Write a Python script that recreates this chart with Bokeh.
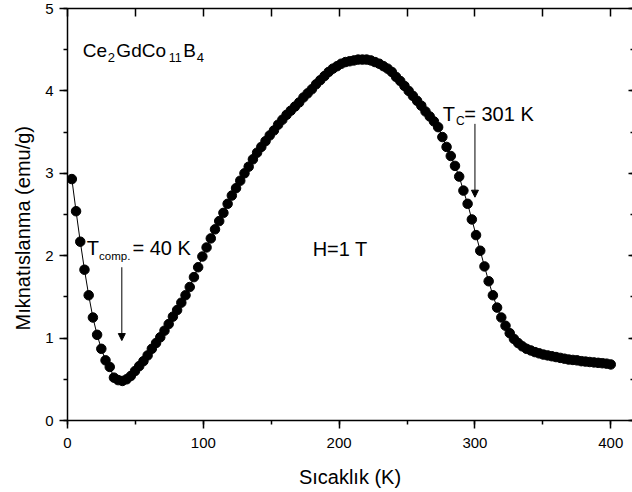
import math
from bokeh.plotting import figure
from bokeh.models import (LinearAxis, SingleIntervalTicker, Label, Arrow,
                          NormalHead, Range1d, CustomJSTickFormatter, Title)
from bokeh.embed import file_html
from bokeh.resources import INLINE

# ---------------- data ----------------
TEMPERATURE_K = [
    3.2, 6.3, 9.4, 12.5, 15.6, 18.7, 21.8, 24.9, 28.0, 31.1,
    34.2, 37.3, 40.4, 43.5, 46.6, 49.7, 52.8, 55.9, 59.0, 62.1,
    65.2, 68.3, 71.4, 74.5, 77.6, 80.7, 83.8, 86.9, 90.0, 93.1,
    96.2, 99.3, 102.4, 105.5, 108.6, 111.7, 114.8, 117.9, 121.0, 124.1,
    127.2, 130.3, 133.4, 136.5, 139.6, 142.7, 145.8, 148.9, 152.0, 155.1,
    158.2, 161.3, 164.4, 167.5, 170.6, 173.7, 176.8, 179.9, 183.0, 186.1,
    189.2, 192.3, 195.4, 198.5, 201.6, 204.7, 207.8, 210.9, 214.0, 217.1,
    220.2, 223.3, 226.4, 229.5, 232.6, 235.7, 238.8, 241.9, 245.0, 248.1,
    251.2, 254.3, 257.4, 260.5, 263.6, 266.7, 269.8, 272.9, 276.0, 279.1,
    282.2, 285.3, 288.4, 291.5, 294.6, 297.7, 300.8, 303.9, 307.0, 310.1,
    313.2, 316.3, 319.4, 322.5, 325.6, 328.7, 331.8, 334.9, 338.0, 341.1,
    344.2, 347.3, 350.4, 353.5, 356.6, 359.7, 362.8, 365.9, 369.0, 372.1,
    375.2, 378.3, 381.4, 384.5, 387.6, 390.7, 393.8, 396.9, 400.0,
]
MAGNETIZATION = [
    2.93, 2.54, 2.17, 1.83, 1.52, 1.25, 1.04, 0.87, 0.73, 0.65,
    0.52, 0.49, 0.48, 0.50, 0.54, 0.60, 0.66, 0.72, 0.79, 0.87,
    0.94, 1.01, 1.09, 1.17, 1.26, 1.34, 1.43, 1.52, 1.62, 1.74,
    1.86, 1.99, 2.10, 2.21, 2.32, 2.42, 2.52, 2.63, 2.73, 2.82,
    2.91, 3.00, 3.08, 3.17, 3.25, 3.32, 3.39, 3.46, 3.52, 3.59,
    3.65, 3.71, 3.76, 3.81, 3.86, 3.92, 3.97, 4.02, 4.08, 4.13,
    4.18, 4.23, 4.27, 4.30, 4.33, 4.35, 4.36, 4.37, 4.38, 4.38,
    4.38, 4.37, 4.35, 4.33, 4.30, 4.27, 4.23, 4.17, 4.12, 4.06,
    4.00, 3.94, 3.88, 3.82, 3.75, 3.69, 3.63, 3.56, 3.44, 3.32,
    3.21, 3.09, 2.96, 2.79, 2.63, 2.44, 2.25, 2.06, 1.87, 1.69,
    1.52, 1.37, 1.25, 1.15, 1.06, 0.99, 0.94, 0.90, 0.87, 0.85,
    0.83, 0.815, 0.80, 0.79, 0.78, 0.77, 0.76, 0.75, 0.74, 0.735,
    0.73, 0.72, 0.715, 0.71, 0.705, 0.70, 0.695, 0.69, 0.68,
]
X_RANGE = (0, 416)
Y_RANGE = (0, 5)
X_LABEL = "Sıcaklık (K)"
Y_LABEL = "Mıknatıslanma (emu/g)"
T_COMP = 40      # compensation temperature (K)
T_CURIE = 300    # arrow position for T_C (K)

FONT = "Liberation Sans"
BLACK = "#000000"

p = figure(width=632, height=490, output_backend="svg", toolbar_location=None,
           x_range=Range1d(*X_RANGE), y_range=Range1d(*Y_RANGE),
           min_border_left=66, min_border_right=0, min_border_top=8,
           min_border_bottom=70)
p.xgrid.visible = False
p.ygrid.visible = False
p.outline_line_color = None
p.background_fill_color = "white"
p.border_fill_color = "white"

blank = CustomJSTickFormatter(code="return ''")

# bottom axis
xa = p.xaxis[0]
xa.ticker = SingleIntervalTicker(interval=100, num_minor_ticks=2)
xa.axis_label = X_LABEL
# left axis
ya = p.yaxis[0]
ya.ticker = SingleIntervalTicker(interval=1, num_minor_ticks=2)
for ax in (xa, ya):
    ax.axis_line_width = 1.5
    ax.axis_line_color = BLACK
    ax.major_tick_line_width = 1.5
    ax.minor_tick_line_width = 1.5
    ax.major_tick_line_color = BLACK
    ax.minor_tick_line_color = BLACK
    ax.major_tick_in = 0
    ax.major_tick_out = 8
    ax.minor_tick_in = 0
    ax.minor_tick_out = 4
    ax.major_label_text_font = FONT
    ax.major_label_text_font_size = "15px"
    ax.major_label_text_color = BLACK
    ax.axis_label_text_font = FONT
    ax.axis_label_text_font_size = "20px"
    ax.axis_label_text_font_style = "normal"
    ax.axis_label_text_color = BLACK
xa.major_label_standoff = 9
ya.major_label_standoff = 6
xa.axis_label_standoff = 15

# y axis title: a side title so it can sit a little below the frame centre
p.add_layout(Title(text=Y_LABEL, align="left", offset=90, standoff=18,
                   text_font=FONT, text_font_size="20px",
                   text_font_style="normal", text_color=BLACK), "left")

# top axis (inward ticks only)
top = LinearAxis(ticker=SingleIntervalTicker(interval=50, num_minor_ticks=0),
                 formatter=blank,
                 axis_line_width=1.5, axis_line_color=BLACK,
                 major_tick_in=8, major_tick_out=0, major_tick_line_width=1.5,
                 major_tick_line_color=BLACK,
                 minor_tick_in=0, minor_tick_out=0, major_label_standoff=0)
p.add_layout(top, "above")
# right axis (only tick stubs visible, as in the cropped original)
right = LinearAxis(ticker=SingleIntervalTicker(interval=1, num_minor_ticks=2),
                   formatter=blank, axis_line_color=None,
                   major_tick_in=4, major_tick_out=0, major_tick_line_width=1.5,
                   major_tick_line_color=BLACK,
                   minor_tick_in=2, minor_tick_out=0, minor_tick_line_width=1.5,
                   minor_tick_line_color=BLACK, major_label_standoff=0)
p.add_layout(right, "right")

# data
p.line(TEMPERATURE_K, MAGNETIZATION, line_color=BLACK, line_width=1)
p.scatter(TEMPERATURE_K, MAGNETIZATION, size=9.5, fill_color=BLACK,
          line_color=BLACK)

def lab(x, y, text, size, dx=0, dy=0, **kw):
    p.add_layout(Label(x=x, y=y, text=text, x_offset=dx, y_offset=dy,
                       text_font=FONT, text_font_size=f"{size}px",
                       text_color=BLACK, text_baseline="alphabetic", **kw))

# compound name Ce2GdCo11B4
cx, cy = 11.3, 4.485
lab(cx, cy, "Ce", 19)
lab(cx, cy, "2", 13, dx=25, dy=-6.5)
lab(cx, cy, "GdCo", 19, dx=33.5)
lab(cx, cy, "11", 12.5, dx=86, dy=-6.5)
lab(cx, cy, "B", 19, dx=100.5)
lab(cx, cy, "4", 13, dx=114, dy=-6.5)

# H = 1 T
lab(180.5, 2.08, "H=1 T", 20)

# T_comp. = 40 K
tx, ty = 14.2, 2.093
lab(tx, ty, "T", 20)
lab(tx, ty, "comp.", 11.5, dx=12.3, dy=-8.4)
lab(tx, ty, "= 40 K", 20, dx=45.7)

# T_C = 301 K
sx, sy = 276.2, 3.717
lab(sx, sy, "T", 20)
lab(sx, sy, "C", 12, dx=13.3, dy=-6.7)
lab(sx, sy, "= 301 K", 20, dx=21.6)

# arrows
for xs, y0, y1 in ((T_COMP, 1.86, 0.97), (T_CURIE, 3.60, 2.71)):
    p.add_layout(Arrow(x_start=xs, y_start=y0, x_end=xs, y_end=y1,
                       line_color=BLACK, line_width=1,
                       end=NormalHead(size=7, fill_color=BLACK,
                                      line_color=BLACK, line_width=1)))

open("out.html", "w").write(file_html(p, INLINE))
